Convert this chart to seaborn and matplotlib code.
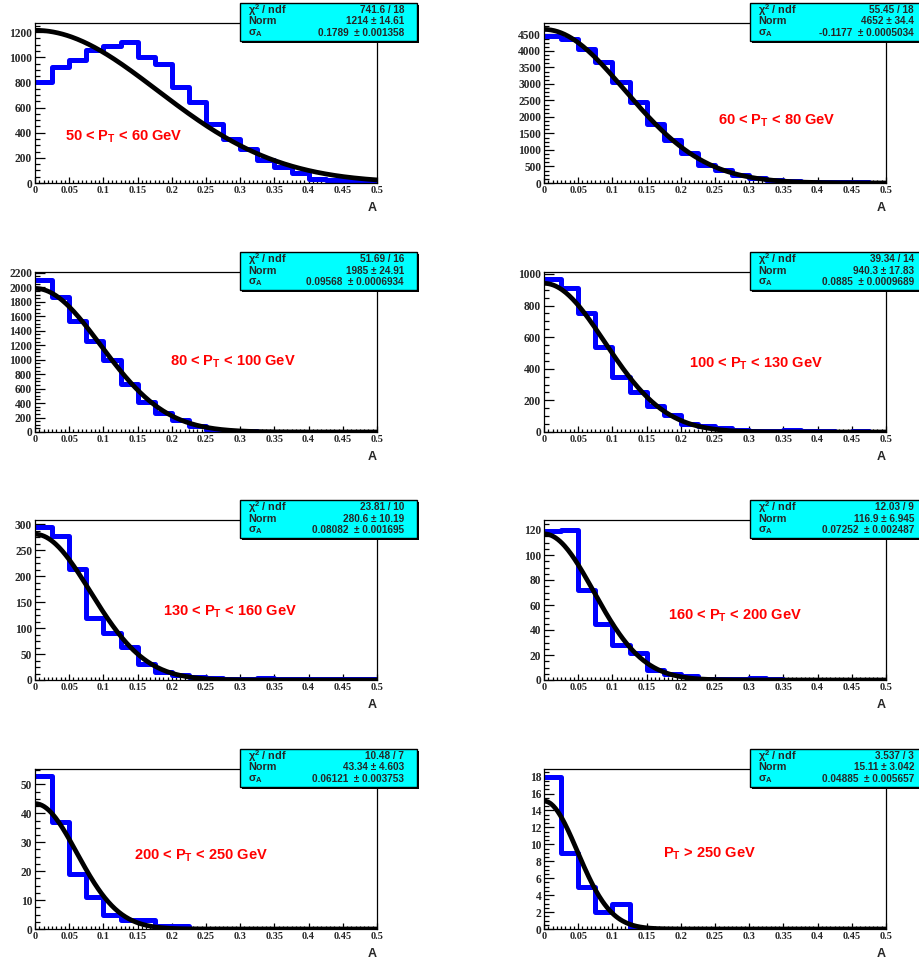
"""Asymmetry A distributions in P_T bins with Gaussian fits (ROOT-style panels)."""

import matplotlib
matplotlib.use("Agg")  # Non-interactive backend
import matplotlib.pyplot as plt
from matplotlib.patches import Rectangle
from matplotlib.ticker import MultipleLocator, AutoMinorLocator, FuncFormatter
import numpy as np
import pandas as pd
import seaborn as sns

# 20 bins of width 0.025 on [0, 0.5]
bin_edges = np.linspace(0.0, 0.5, 21)
bin_centers = 0.5 * (bin_edges[:-1] + bin_edges[1:])

pt_labels = [
    "50 < P$_\\mathrm{T}$ < 60 GeV",
    "60 < P$_\\mathrm{T}$ < 80 GeV",
    "80 < P$_\\mathrm{T}$ < 100 GeV",
    "100 < P$_\\mathrm{T}$ < 130 GeV",
    "130 < P$_\\mathrm{T}$ < 160 GeV",
    "160 < P$_\\mathrm{T}$ < 200 GeV",
    "200 < P$_\\mathrm{T}$ < 250 GeV",
    "P$_\\mathrm{T}$ > 250 GeV",
]

counts_50_60 = [800, 920, 980, 1060, 1090, 1120, 1000, 950, 760, 640,
                470, 350, 270, 180, 130, 80, 30, 25, 20, 15]
counts_60_80 = [4450, 4350, 4050, 3650, 3050, 2450, 1800, 1300, 900, 550,
                400, 250, 150, 100, 60, 40, 30, 30, 20, 10]
counts_80_100 = [2100, 1870, 1530, 1260, 1000, 660, 420, 260, 160, 80,
                 30, 10, 20, 5, 5, 5, 5, 5, 5, 5]
counts_100_130 = [970, 910, 750, 540, 350, 250, 165, 110, 50, 35,
                  25, 15, 5, 5, 10, 5, 5, 3, 5, 3]
counts_130_160 = [295, 278, 213, 120, 90, 63, 30, 15, 10, 5,
                  3, 2, 2, 3, 2, 1, 1, 1, 1, 1]
counts_160_200 = [119, 120, 72, 45, 28, 22, 8, 5, 3, 1,
                  1, 1, 2, 1, 0, 0, 0, 0, 0, 0]
counts_200_250 = [53, 37, 19, 11, 5, 3, 3, 1, 1, 0,
                  0, 0, 0, 0, 0, 0, 0, 0, 0, 0]
counts_250_up = [18, 9, 5, 2, 3, 0, 0, 0, 0, 0,
                 0, 0, 0, 0, 0, 0, 0, 0, 0, 0]
all_counts = [counts_50_60, counts_60_80, counts_80_100, counts_100_130,
              counts_130_160, counts_160_200, counts_200_250, counts_250_up]

# fit results from the stat boxes
fit_chi2 = ["741.6 / 18", "55.45 / 18", "51.69 / 16", "39.34 / 14",
            "23.81 / 10", "12.03 / 9", "10.48 / 7", "3.537 / 3"]
fit_norm = [1214, 4652, 1985, 940.3, 280.6, 116.9, 43.34, 15.11]
fit_norm_err = ["14.61", "34.4", "24.91", "17.83", "10.19", "6.945", "4.603", "3.042"]
fit_sigma = [0.1789, -0.1177, 0.09568, 0.0885, 0.08082, 0.07252, 0.06121, 0.04885]
fit_sigma_err = ["0.001358", "0.0005034", "0.0006934", "0.0009689",
                 "0.001695", "0.002487", "0.003753", "0.005657"]

y_max = [1272, 4846, 2212, 1012, 308, 128, 55.3, 18.9]
y_step = [200, 500, 200, 200, 50, 20, 10, 2]

# label anchor (axes fraction, left / vertical centre)
label_pos = [(0.088, 0.29), (0.51, 0.39), (0.395, 0.44), (0.424, 0.425),
             (0.375, 0.425), (0.363, 0.40), (0.29, 0.46), (0.348, 0.47)]

sns.set_style("white")
plt.rcParams["font.family"] = ["Liberation Sans", "DejaVu Sans"]
plt.rcParams["mathtext.fontset"] = "custom"
plt.rcParams["mathtext.rm"] = "Liberation Sans:bold"
plt.rcParams["mathtext.it"] = "Liberation Sans:bold"
plt.rcParams["mathtext.bf"] = "Liberation Sans:bold"

W, H = 919, 961
fig = plt.figure(figsize=(W / 100, H / 100), dpi=100)
fig.patch.set_facecolor("white")

col_x = [35, 544]
row_top = [23, 272, 520, 769]
ax_w, ax_h = 342, 160
box_x = [240, 750]
box_w, box_h = 177, 38

x_fine = np.linspace(0, 0.5, 300)
fmt = FuncFormatter(lambda v, p: f"{v:g}")

for i in range(8):
    r, c = divmod(i, 2)
    left = col_x[c] / W
    bottom = 1 - (row_top[r] + ax_h) / H
    ax = fig.add_axes([left, bottom, ax_w / W, ax_h / H])

    hist_df = pd.DataFrame({"A": bin_centers, "n": all_counts[i]})
    sns.histplot(data=hist_df, x="A", weights="n", bins=list(bin_edges),
                 element="step", fill=False, color="#0000ff", linewidth=3.6, ax=ax)
    fit_y = fit_norm[i] * np.exp(-x_fine ** 2 / (2 * fit_sigma[i] ** 2))
    sns.lineplot(x=x_fine, y=fit_y, color="black", linewidth=3.4, ax=ax)

    ax.set_xlim(0, 0.5)
    ax.set_ylim(0, y_max[i])
    ax.set_xlabel("")
    ax.set_ylabel("")
    for s in ax.spines.values():
        s.set_color("black")
        s.set_linewidth(0.9)

    ax.xaxis.set_major_locator(MultipleLocator(0.05))
    ax.xaxis.set_minor_locator(AutoMinorLocator(8))
    ax.yaxis.set_major_locator(MultipleLocator(y_step[i]))
    ax.yaxis.set_minor_locator(AutoMinorLocator(4))
    ax.xaxis.set_major_formatter(fmt)
    ax.yaxis.set_major_formatter(fmt)
    ax.tick_params(which="both", direction="in", top=False, right=False,
                   bottom=True, left=True, width=0.9, color="black")
    ax.tick_params(axis="x", which="major", length=4, pad=2)
    ax.tick_params(axis="x", which="minor", length=2.2)
    ax.tick_params(axis="y", which="major", length=7, pad=2)
    ax.tick_params(axis="y", which="minor", length=3.6)
    for lab in ax.get_xticklabels():
        lab.set_family("Liberation Serif")
        lab.set_fontweight("bold")
        lab.set_fontsize(7.5)
    for lab in ax.get_yticklabels():
        lab.set_family("Liberation Serif")
        lab.set_fontweight("bold")
        lab.set_fontsize(8.3)

    lx, ly = label_pos[i]
    ax.text(lx, ly, pt_labels[i], transform=ax.transAxes, color="red",
            fontsize=10.5, fontweight="bold", ha="left", va="center")

    # x axis title
    fig.text((col_x[c] + ax_w - 5) / W, 1 - (row_top[r] + ax_h + 25) / H, "A",
             fontsize=9, fontweight="bold", ha="center", va="center")

    # stat box with shadow
    bx0 = box_x[c]
    by_top = row_top[r] - 20
    fig.patches.append(Rectangle(((bx0 + 2) / W, 1 - (by_top + box_h + 2) / H),
                                 box_w / W, box_h / H, transform=fig.transFigure,
                                 facecolor="black", edgecolor="none", zorder=5))
    fig.patches.append(Rectangle((bx0 / W, 1 - (by_top + box_h) / H),
                                 box_w / W, box_h / H, transform=fig.transFigure,
                                 facecolor="#00ffff", edgecolor="black",
                                 linewidth=1.0, zorder=6))
    rows = [("χ$^\\mathrm{2}$ / ndf", fit_chi2[i]),
            ("Norm", f"{fit_norm[i]:g} ± {fit_norm_err[i]}"),
            ("σ$_\\mathrm{A}$", f"{fit_sigma[i]:g}  ± {fit_sigma_err[i]}")]
    for k, (name, val) in enumerate(rows):
        yy = 1 - (by_top + 7 + 11.5 * k) / H
        fig.text((bx0 + 8) / W, yy, name, fontsize=7.8, fontweight="bold",
                 ha="left", va="center", zorder=7)
        fig.text((bx0 + box_w - 13) / W, yy, val, fontsize=7.2, fontweight="bold",
                 ha="right", va="center", zorder=7)

plt.savefig("out.png", dpi=100)
plt.close()
